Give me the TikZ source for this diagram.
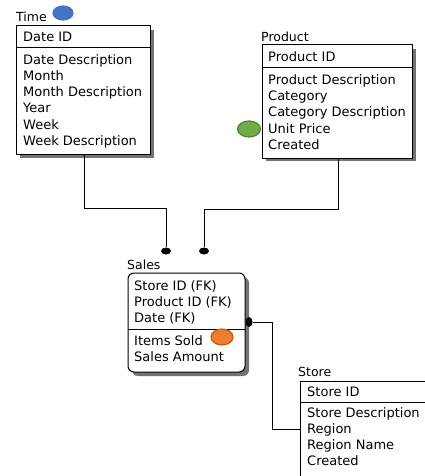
\documentclass[tikz,border=0pt]{standalone}
\usepackage{fontspec}
\setmainfont{DejaVu Sans}
\usetikzlibrary{shapes.geometric}
\tikzset{
  entity/.style={draw=black, line width=1pt, fill=white},
  shadow/.style={fill=black!55, draw=none},
  sep/.style={draw=black, line width=1pt},
  field/.style={anchor=base west, inner sep=0pt, font=\fontsize{13}{16}\selectfont},
  title/.style={anchor=base west, inner sep=0pt, font=\fontsize{12.5}{15}\selectfont},
  link/.style={draw=black, line width=1pt},
  manydot/.style={ellipse, fill=black, inner sep=0pt, minimum width=10pt, minimum height=7pt},
  marker/.style={ellipse, line width=1.2pt, inner sep=0pt},
}
\begin{document}
\begin{tikzpicture}[x=1pt, y=-1pt]
\useasboundingbox (0,0) rectangle (424,476);

% ---- Time dimension ----
\fill[shadow] (20,30) rectangle (154,158);
\draw[entity] (16,26) rectangle (150,154);
\draw[sep] (16,48) -- (150,48);
\node[title] (timeT) at (16,22) {Time};
\node[marker, fill={rgb,255:red,68;green,114;blue,196}, draw={rgb,255:red,68;green,114;blue,196}, minimum width=20pt, minimum height=14pt] (blue) at (63,13) {};
\node[field] (t1) at (23,42) {Date ID};
\node[field] (t2) at (23,65) {Date Description};
\node[field] (t3) at (23,81) {Month};
\node[field] (t4) at (23,97) {Month Description};
\node[field] (t5) at (23,113) {Year};
\node[field] (t6) at (23,129) {Week};
\node[field] (t7) at (23,145) {Week Description};
\coordinate (timeOut) at (84,154);

% ---- Product dimension ----
\fill[shadow] (266,49) rectangle (416,161);
\draw[entity] (262,45) rectangle (412,158);
\draw[sep] (262,68) -- (412,68);
\node[title] (prodT) at (261,42) {Product};
\node[field] (p1) at (268,62) {Product ID};
\node[field] (p2) at (268,85) {Product Description};
\node[field] (p3) at (268,101) {Category};
\node[field] (p4) at (268,117) {Category Description};
\node[field] (p5) at (268,133) {Unit Price};
\node[field] (p6) at (268,149) {Created};
\node[marker, fill={rgb,255:red,112;green,173;blue,71}, draw={rgb,255:red,84;green,130;blue,53}, minimum width=23pt, minimum height=16pt] (green) at (249,129) {};
\coordinate (prodOut) at (338,158);

% ---- Sales fact ----
\fill[shadow, rounded corners=6pt] (132,277) rectangle (249,376);
\draw[entity, rounded corners=6pt] (128,273) rectangle (245,372);
\draw[sep] (128,329) -- (245,329);
\node[title] (salesT) at (127,269) {Sales};
\node[field] (s1) at (134,290) {Store ID (FK)};
\node[field] (s2) at (134,306) {Product ID (FK)};
\node[field] (s3) at (134,322) {Date (FK)};
\node[field] (s4) at (134,345) {Items Sold};
\node[field] (s5) at (134,361) {Sales Amount};
\node[marker, fill={rgb,255:red,237;green,125;blue,49}, draw={rgb,255:red,197;green,90;blue,17}, minimum width=22pt, minimum height=16pt] (orange) at (222,337) {};

% ---- Store dimension ----
\draw[entity] (300,381) rectangle (430,484);
\draw[sep] (300,402) -- (430,402);
\node[title] (storeT) at (298,376) {Store};
\node[field] (r1) at (307,396) {Store ID};
\node[field] (r2) at (307,417) {Store Description};
\node[field] (r3) at (307,433) {Region};
\node[field] (r4) at (307,449) {Region Name};
\node[field] (r5) at (307,465) {Created};
\coordinate (storeIn) at (300,429);

% ---- Relationship lines with "many" ends ----
\node[manydot] (dTime) at (166,251) {};
\node[manydot] (dProd) at (204,251) {};
\node[manydot, minimum width=7pt, minimum height=10pt] (dStore) at (249,322) {};

\draw[link] (timeOut) |- (166,208) -- (dTime.north);
\draw[link] (prodOut) |- (204,209) -- (dProd.north);
\draw[link] (dStore.east) -| (272,429) -- (storeIn);
\end{tikzpicture}
\end{document}
